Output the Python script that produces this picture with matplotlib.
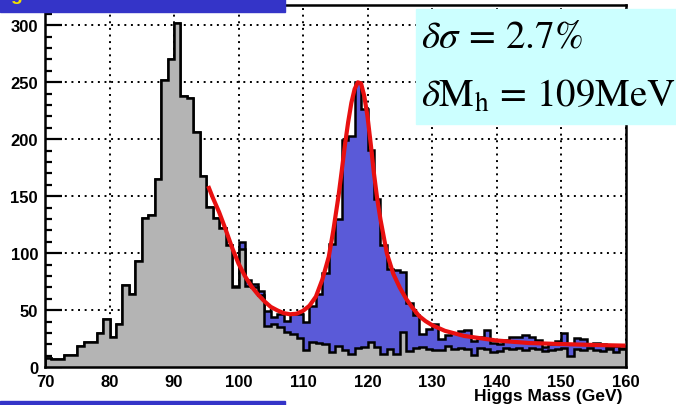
import matplotlib
matplotlib.use('Agg')
import matplotlib.pyplot as plt
from matplotlib.patches import Rectangle

# ---------------- data ----------------
bin_edges = list(range(70, 161))  # 1 GeV bins, 70..160

background = [8, 7, 7, 11, 11, 19, 22, 22, 30, 42,
              27, 38, 72, 64, 93, 131, 134, 165, 252, 270,
              302, 238, 236, 206, 168, 141, 131, 122, 107, 70,
              104, 71, 70, 63, 36, 38, 35, 31, 29, 26,
              15, 22, 21, 20, 13, 19, 15, 12, 17, 18,
              22, 18, 12, 16, 12, 31, 14, 17, 18, 16,
              15, 15, 19, 16, 17, 16, 11, 17, 16, 13,
              14, 17, 16, 17, 15, 17, 16, 14, 15, 16,
              17, 10, 16, 15, 17, 15, 14, 16, 13, 16]

total = [8, 7, 7, 11, 11, 19, 22, 22, 30, 42,
         27, 38, 72, 64, 93, 131, 134, 165, 252, 270,
         302, 238, 236, 206, 168, 141, 131, 122, 107, 71,
         110, 77, 73, 67, 49, 44, 47, 41, 47, 47,
         40, 54, 64, 83, 108, 130, 199, 203, 250, 227,
         191, 148, 107, 86, 85, 84, 56, 46, 29, 34,
         38, 25, 28, 30, 32, 33, 23, 27, 33, 21,
         20, 24, 27, 27, 28, 27, 24, 18, 20, 23,
         30, 20, 26, 25, 20, 21, 20, 18, 19, 17]

fit_mass = [95.3, 96, 97, 98, 99, 100, 101, 102, 103, 104, 105, 106, 107, 108,
            109, 110, 111, 112, 113, 114, 114.7, 115.5, 116, 116.5, 117, 117.5,
            118, 118.5, 119, 119.5, 120, 120.5, 121, 121.5, 122, 122.5, 123,
            124, 125, 126, 127, 128, 129, 130, 132, 135, 140, 145, 150, 155, 160]
fit_counts = [159, 149, 136, 121, 105, 91, 80, 71, 64, 58, 53, 50, 47.5, 46.5,
              47, 49.5, 54, 62, 77, 97, 120, 150, 172, 195, 215, 232,
              244, 250, 249, 238, 220, 196, 170, 148, 130, 115, 100,
              82, 70, 60, 52, 45, 40.5, 37, 32, 27.5, 23.5, 21.3, 20.4, 19.6, 19]

x_ticks = [70, 80, 90, 100, 110, 120, 130, 140, 150, 160]
y_ticks = [0, 50, 100, 150, 200, 250, 300]
x_label = "Higgs Mass (GeV)"
text_line1 = r"$\delta\sigma \,=\, 2.7\%$"
text_line2 = r"$\delta\mathrm{M}_{\mathrm{h}} \,=\, 109\mathrm{MeV}$"

# ---------------- figure ----------------
W, H = 676, 406
fig = plt.figure(figsize=(W / 100, H / 100), dpi=100)
fig.patch.set_facecolor('white')

ax_left, ax_right = 45 / W, 625.5 / W
ax_bottom, ax_top = (H - 368.3) / H, (H - 6) / H
ax = fig.add_axes([ax_left, ax_bottom, ax_right - ax_left, ax_top - ax_bottom])

grey = '#b4b4b4'
blue = '#5a5ad8'

ax.stairs(total, bin_edges, fill=True, color=blue, zorder=1)
ax.stairs(total, bin_edges, color='black', lw=1.8, zorder=1.1)
ax.stairs(background, bin_edges, fill=True, color=grey, zorder=1.2)
ax.stairs(background, bin_edges, color='black', lw=1.8, zorder=1.3)

ax.plot(fit_mass, fit_counts, color='#e81010', lw=3.0, zorder=3,
        solid_capstyle='butt')

ax.set_xlim(70, 160)
ax.set_ylim(0, 317.8)
ax.set_axisbelow(True)

ax.set_xticks(x_ticks)
ax.set_yticks(y_ticks)
ax.set_yticks(list(range(0, 311, 10)), minor=True)
ax.grid(True, which='major', color='black', lw=1.4, linestyle=(0, (1, 2.4)))
ax.grid(False, which='minor')

tick_font = dict(family='Liberation Sans', weight='bold', size=12)
ax.set_xticklabels([str(t) for t in x_ticks], **tick_font)
ax.set_yticklabels([str(t) for t in y_ticks], **tick_font)
ax.tick_params(axis='x', length=0, pad=5)
ax.tick_params(axis='y', which='major', direction='in', length=12, width=1.6, pad=5)
ax.tick_params(axis='y', which='minor', direction='in', length=5, width=1.6)

for s in ax.spines.values():
    s.set_linewidth(1.8)
    s.set_zorder(2.5)

fig.text(623 / W, (H - 401.5) / H, x_label, ha='right', va='baseline',
         family='Liberation Sans', weight='bold', size=12.5)

# banners
fig.patches.append(Rectangle((0, (H - 12.5) / H), 285 / W, 12.5 / H,
                             transform=fig.transFigure, color='#3434c8', zorder=5))
fig.patches.append(Rectangle((0, 0), 285 / W, 4.5 / H,
                             transform=fig.transFigure, color='#3434c8', zorder=5))
fig.text(10 / W, (H - 0.5) / H, 'g', color='#f0e000', ha='left', va='baseline',
         family='Liberation Sans', weight='bold', size=14, zorder=6)

# cyan info box
fig.patches.append(Rectangle((416 / W, (H - 125) / H), (W - 416) / W, 115 / H,
                             transform=fig.transFigure, color='#ccffff', zorder=5))
fig.text(421 / W, (H - 47) / H, text_line1, ha='left', va='baseline',
         size=28, math_fontfamily='stix', zorder=6)
fig.text(421 / W, (H - 107) / H, text_line2, ha='left', va='baseline',
         size=28, math_fontfamily='stix', zorder=6)

fig.savefig('out.png', dpi=100)
